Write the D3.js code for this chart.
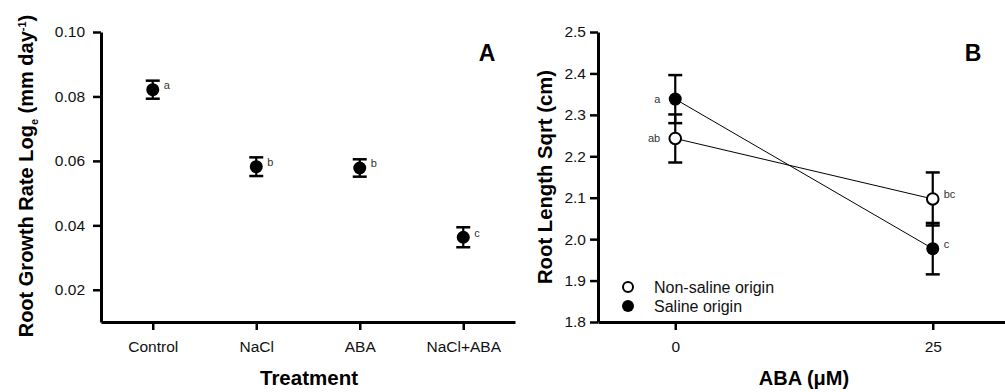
<!DOCTYPE html>
<html>
<head>
<meta charset="utf-8">
<script src="https://cdn.jsdelivr.net/npm/d3@7"></script>
<style>
  body { margin: 0; background: #fff; }
  svg { display: block; font-family: "Liberation Sans", Arial, sans-serif; }
</style>
</head>
<body>
<div class="chart"></div>
<script>
// panel A data
let treatments = ["Control", "NaCl", "ABA", "NaCl+ABA"];
let growthMean = [0.0821, 0.0582, 0.0578, 0.0363];
let growthSE = [0.0028, 0.0029, 0.0027, 0.0031];
let growthLetters = ["a", "b", "b", "c"];
let yTicksA = [0.02, 0.04, 0.06, 0.08, 0.10];

// panel B data
let abaDose = [0, 25];
let nonSalineMean = [2.243, 2.097];
let nonSalineSE = [0.058, 0.064];
let nonSalineLetters = ["ab", "bc"];
let salineMean = [2.338, 1.977];
let salineSE = [0.058, 0.062];
let salineLetters = ["a", "c"];
let yTicksB = [1.8, 1.9, 2.0, 2.1, 2.2, 2.3, 2.4, 2.5];
let xTicksB = [0, 25];

let chart = {};

init();

function init() {
    chart.svg = d3.select(".chart").append("svg")
        .attr("width", 1005)
        .attr("height", 392);
    drawPanelA();
    drawPanelB();
}

function styleAxis(g) {
    g.select(".domain").attr("stroke", "#000").attr("stroke-width", 3);
    g.selectAll(".tick line").attr("stroke", "#000").attr("stroke-width", 2.5);
    g.selectAll(".tick text").attr("fill", "#111").style("font-size", "15.5px");
}

function errorBar(g, x, yTop, yBot) {
    g.append("line").attr("x1", x).attr("x2", x).attr("y1", yTop).attr("y2", yBot)
        .attr("stroke", "#000").attr("stroke-width", 2.2);
    [yTop, yBot].forEach(y => {
        g.append("line").attr("x1", x - 7).attr("x2", x + 7).attr("y1", y).attr("y2", y)
            .attr("stroke", "#000").attr("stroke-width", 2.5);
    });
}

function drawPanelA() {
    let x = d3.scalePoint().domain(treatments).range([101, 515]).padding(0.5);
    let y = d3.scaleLinear().domain([0.01, 0.10]).range([322, 32]);

    let g = chart.svg.append("g");

    g.append("g").attr("transform", "translate(101,0)")
        .call(d3.axisLeft(y).tickValues(yTicksA).tickFormat(d3.format(".2f")).tickSize(8).tickSizeOuter(0).tickPadding(8))
        .call(styleAxis);

    g.append("g").attr("transform", "translate(0,322)")
        .call(d3.axisBottom(x).tickSize(8).tickSizeOuter(0).tickPadding(11))
        .call(styleAxis);

    treatments.forEach((t, i) => {
        let cx = x(t);
        errorBar(g, cx, y(growthMean[i] + growthSE[i]), y(growthMean[i] - growthSE[i]));
        g.append("circle").attr("cx", cx).attr("cy", y(growthMean[i])).attr("r", 6.5).attr("fill", "#000");
        g.append("text").attr("x", cx + 11).attr("y", y(growthMean[i]) - 0.5)
            .style("font-size", "11px").attr("fill", "#333").text(growthLetters[i]);
    });

    g.append("text").attr("x", 309).attr("y", 385).attr("text-anchor", "middle")
        .style("font-size", "20.5px").style("font-weight", "bold").text("Treatment");

    let yt = g.append("text").attr("transform", "translate(33,176) rotate(-90)")
        .attr("text-anchor", "middle").style("font-size", "20px").style("font-weight", "bold");
    yt.append("tspan").text("Root Growth Rate Log");
    yt.append("tspan").attr("dy", 5).style("font-size", "11px").text("e");
    yt.append("tspan").attr("dy", -5).text(" (mm day");
    yt.append("tspan").attr("dy", -7).style("font-size", "11px").text("-1");
    yt.append("tspan").attr("dy", 7).text(")");

    g.append("text").attr("x", 487).attr("y", 61).attr("text-anchor", "middle")
        .style("font-size", "23px").style("font-weight", "bold").text("A");
}

function drawPanelB() {
    let x = d3.scaleLinear().domain([-7.5, 32.5]).range([598, 1010]);
    let y = d3.scaleLinear().domain([1.8, 2.5]).range([322, 32]);

    let g = chart.svg.append("g");

    g.append("g").attr("transform", "translate(598,0)")
        .call(d3.axisLeft(y).tickValues(yTicksB).tickFormat(d3.format(".1f")).tickSize(8).tickSizeOuter(0).tickPadding(4))
        .call(styleAxis);

    g.append("g").attr("transform", "translate(0,322)")
        .call(d3.axisBottom(x).tickValues(xTicksB).tickFormat(d3.format("d")).tickSize(8).tickSizeOuter(0).tickPadding(11))
        .call(styleAxis);

    let line = d3.line().x((d, i) => x(abaDose[i])).y(d => y(d));
    [nonSalineMean, salineMean].forEach(s => {
        g.append("path").datum(s).attr("d", line).attr("fill", "none")
            .attr("stroke", "#000").attr("stroke-width", 1);
    });

    abaDose.forEach((d, i) => {
        errorBar(g, x(d), y(nonSalineMean[i] + nonSalineSE[i]), y(nonSalineMean[i] - nonSalineSE[i]));
        errorBar(g, x(d), y(salineMean[i] + salineSE[i]), y(salineMean[i] - salineSE[i]));
    });

    abaDose.forEach((d, i) => {
        g.append("circle").attr("cx", x(d)).attr("cy", y(nonSalineMean[i])).attr("r", 5.8)
            .attr("fill", "#fff").attr("stroke", "#000").attr("stroke-width", 2);
        g.append("circle").attr("cx", x(d)).attr("cy", y(salineMean[i])).attr("r", 6.5).attr("fill", "#000");
    });

    // letters: left of points at 0, right at 25
    abaDose.forEach((d, i) => {
        let left = i === 0;
        let dx = left ? -15 : 11;
        [[nonSalineMean, nonSalineLetters], [salineMean, salineLetters]].forEach(([m, l]) => {
            g.append("text").attr("x", x(d) + dx).attr("y", y(m[i]) + (left ? 4 : -0.5))
                .attr("text-anchor", left ? "end" : "start")
                .style("font-size", "11px").attr("fill", "#333").text(l[i]);
        });
    });

    // legend
    g.append("circle").attr("cx", 628).attr("cy", 287).attr("r", 5)
        .attr("fill", "#fff").attr("stroke", "#000").attr("stroke-width", 2);
    g.append("circle").attr("cx", 628).attr("cy", 306).attr("r", 6).attr("fill", "#000");
    g.append("text").attr("x", 654).attr("y", 293).style("font-size", "16px").attr("fill", "#111").text("Non-saline origin");
    g.append("text").attr("x", 654).attr("y", 312).style("font-size", "16px").attr("fill", "#111").text("Saline origin");

    g.append("text").attr("x", 804).attr("y", 385).attr("text-anchor", "middle")
        .style("font-size", "20px").style("font-weight", "bold").text("ABA (μM)");

    g.append("text").attr("transform", "translate(552,177) rotate(-90)")
        .attr("text-anchor", "middle").style("font-size", "20.3px").style("font-weight", "bold")
        .text("Root Length Sqrt (cm)");

    g.append("text").attr("x", 973).attr("y", 61).attr("text-anchor", "middle")
        .style("font-size", "23px").style("font-weight", "bold").text("B");
}
</script>
</body>
</html>
